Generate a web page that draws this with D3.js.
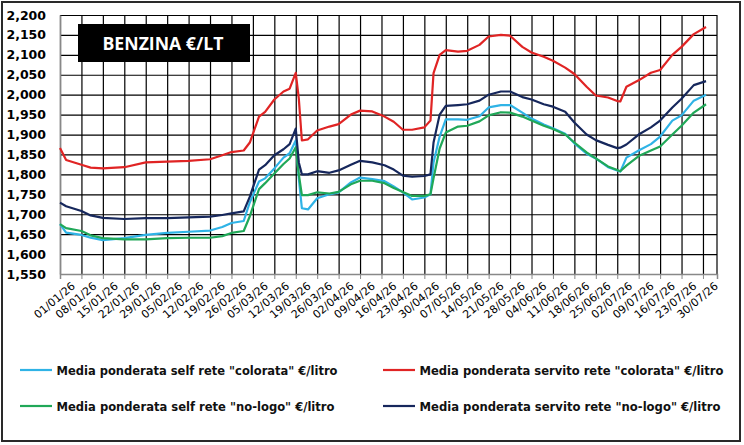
<!DOCTYPE html>
<html>
<head>
<meta charset="utf-8">
<script src="https://cdn.jsdelivr.net/npm/d3@7"></script>
<style>
  body { margin: 0; background: #fff; }
</style>
</head>
<body>
<div id="chart"></div>
<script>
// sample dates (read off the picture, not evenly spaced)
const dates = [
  "2026-01-01", "2026-01-03", "2026-01-08", "2026-01-11", "2026-01-15", "2026-01-22",
  "2026-01-29", "2026-02-05", "2026-02-12", "2026-02-19", "2026-02-23", "2026-02-26",
  "2026-03-02", "2026-03-04", "2026-03-07", "2026-03-09", "2026-03-12", "2026-03-15",
  "2026-03-17", "2026-03-19", "2026-03-20", "2026-03-21", "2026-03-23", "2026-03-26",
  "2026-03-30", "2026-04-02", "2026-04-06", "2026-04-09", "2026-04-13", "2026-04-17",
  "2026-04-20", "2026-04-23", "2026-04-26", "2026-04-30", "2026-05-02", "2026-05-03",
  "2026-05-05", "2026-05-07", "2026-05-11", "2026-05-14", "2026-05-18", "2026-05-21",
  "2026-05-25", "2026-05-28", "2026-06-01", "2026-06-04", "2026-06-08", "2026-06-11",
  "2026-06-15", "2026-06-18", "2026-06-22", "2026-06-25", "2026-06-29", "2026-07-02",
  "2026-07-03", "2026-07-05", "2026-07-09", "2026-07-13", "2026-07-16", "2026-07-20",
  "2026-07-23", "2026-07-27", "2026-07-31",
];

// €/litro
const selfColorata = [
  1.675, 1.654, 1.648, 1.641, 1.635, 1.640, 1.648, 1.653, 1.656, 1.659, 1.668, 1.678,
  1.683, 1.730, 1.782, 1.790, 1.815, 1.842, 1.853, 1.885, 1.790, 1.715, 1.712, 1.740,
  1.750, 1.755, 1.780, 1.792, 1.788, 1.783, 1.770, 1.755, 1.737, 1.742, 1.750, 1.830,
  1.895, 1.938, 1.938, 1.937, 1.946, 1.968, 1.974, 1.974, 1.955, 1.940, 1.925, 1.916,
  1.902, 1.878, 1.852, 1.840, 1.818, 1.810, 1.807, 1.842, 1.860, 1.876, 1.895, 1.935,
  1.948, 1.985, 2.000,
];
const servitoColorata = [
  1.866, 1.836, 1.824, 1.817, 1.815, 1.818, 1.830, 1.832, 1.834, 1.838, 1.848, 1.856,
  1.860, 1.880, 1.945, 1.957, 1.988, 2.008, 2.015, 2.055, 1.990, 1.885, 1.888, 1.910,
  1.920, 1.926, 1.950, 1.960, 1.958, 1.945, 1.932, 1.912, 1.912, 1.918, 1.935, 2.054,
  2.100, 2.112, 2.108, 2.110, 2.125, 2.146, 2.150, 2.148, 2.120, 2.106, 2.095, 2.085,
  2.068, 2.052, 2.020, 1.998, 1.993, 1.984, 1.983, 2.020, 2.036, 2.055, 2.062, 2.100,
  2.120, 2.152, 2.170,
];
const selfNoLogo = [
  1.675, 1.665, 1.658, 1.647, 1.640, 1.637, 1.637, 1.640, 1.641, 1.641, 1.645, 1.653,
  1.658, 1.695, 1.763, 1.778, 1.802, 1.826, 1.840, 1.868, 1.800, 1.748, 1.748, 1.755,
  1.752, 1.756, 1.775, 1.784, 1.784, 1.778, 1.766, 1.756, 1.746, 1.746, 1.750, 1.790,
  1.865, 1.905, 1.920, 1.922, 1.933, 1.948, 1.956, 1.955, 1.945, 1.935, 1.922, 1.914,
  1.900, 1.880, 1.855, 1.840, 1.820, 1.811, 1.808, 1.822, 1.846, 1.860, 1.870, 1.900,
  1.922, 1.955, 1.976,
];
const servitoNoLogo = [
  1.729, 1.720, 1.708, 1.697, 1.691, 1.688, 1.690, 1.690, 1.692, 1.694, 1.698, 1.702,
  1.707, 1.744, 1.812, 1.823, 1.848, 1.863, 1.876, 1.915, 1.830, 1.800, 1.800, 1.808,
  1.804, 1.810, 1.824, 1.834, 1.830, 1.823, 1.812, 1.797, 1.794, 1.796, 1.800, 1.880,
  1.950, 1.972, 1.974, 1.976, 1.985, 2.000, 2.008, 2.008, 1.994, 1.988, 1.976, 1.970,
  1.957, 1.930, 1.900, 1.886, 1.874, 1.866, 1.867, 1.875, 1.900, 1.918, 1.935, 1.968,
  1.990, 2.024, 2.034,
];

const seriesNames = [
  'Media ponderata self rete "colorata" €/litro',
  'Media ponderata servito rete "colorata" €/litro',
  'Media ponderata self rete "no-logo" €/litro',
  'Media ponderata servito rete "no-logo" €/litro',
];
const seriesColors = ["#2fb3e6", "#e02424", "#20a858", "#16275c"];
const seriesValues = [selfColorata, servitoColorata, selfNoLogo, servitoNoLogo];

const yTicks = d3.range(1.55, 2.2001, 0.05);
const chartTitle = "BENZINA €/LT";

const width = 744;
const height = 445;
const plot = { left: 60, top: 15, right: 717, bottom: 274 };

const parseDate = d3.utcParse("%Y-%m-%d");
const dateValues = dates.map(parseDate);
const itLocale = d3.formatLocale({ decimal: ",", thousands: ".", grouping: [3], currency: ["€", ""] });

const x = d3
  .scaleUtc()
  .domain([parseDate("2026-01-01"), new Date(Date.UTC(2026, 7, 3, 14))])
  .range([plot.left, plot.right]);
const y = d3.scaleLinear().domain([1.55, 2.2]).range([plot.bottom, plot.top]);

// weekly ticks, 01/01 .. 30/07
const xTicks = d3.utcDay.range(parseDate("2026-01-01"), parseDate("2026-07-31"), 7);

const svg = d3
  .create("svg")
  .attr("width", width)
  .attr("height", height)
  .attr("viewBox", [0, 0, width, height])
  .attr("font-family", "'DejaVu Sans', Verdana, sans-serif");

svg.append("rect").attr("width", width).attr("height", height).attr("fill", "#fff");

// grid
svg
  .append("g")
  .attr("transform", `translate(0,${plot.bottom})`)
  .call(d3.axisBottom(x).tickValues(xTicks).tickSize(-(plot.bottom - plot.top)).tickFormat(""))
  .call((g) => g.select(".domain").remove())
  .call((g) => g.selectAll("line").attr("stroke", "#000").attr("stroke-width", 1.2));

svg
  .append("g")
  .attr("transform", `translate(${plot.left},0)`)
  .call(d3.axisLeft(y).tickValues(yTicks).tickSize(-(plot.right - plot.left)).tickFormat(""))
  .call((g) => g.select(".domain").remove())
  .call((g) => g.selectAll("line").attr("stroke", "#000").attr("stroke-width", 1.2));

// right border of plot area
svg
  .append("line")
  .attr("x1", plot.right)
  .attr("x2", plot.right)
  .attr("y1", plot.top)
  .attr("y2", plot.bottom)
  .attr("stroke", "#000")
  .attr("stroke-width", 1.2);

// x axis with labels
svg
  .append("g")
  .attr("transform", `translate(0,${plot.bottom})`)
  .call(d3.axisBottom(x).tickValues(xTicks).tickSize(5).tickFormat(d3.utcFormat("%d/%m/%y")))
  .call((g) => g.select(".domain").attr("stroke", "#888").attr("stroke-width", 1.5))
  .call((g) => g.selectAll(".tick line").attr("stroke", "#888"))
  .call((g) =>
    g
      .selectAll(".tick text")
      .attr("font-size", 11)
      .attr("font-family", "'DejaVu Sans', Verdana, sans-serif")
      .attr("fill", "#000")
      .attr("text-anchor", "end")
      .attr("transform", "translate(6,2) rotate(-40)")
      .attr("dy", "0.6em")
  );

// y axis labels
svg
  .append("g")
  .attr("transform", `translate(${plot.left},0)`)
  .call(d3.axisLeft(y).tickValues(yTicks).tickSize(0).tickPadding(14).tickFormat(itLocale.format(".3f")))
  .call((g) => g.select(".domain").attr("stroke", "#888").attr("stroke-width", 1.5))
  .call((g) =>
    g
      .selectAll(".tick text")
      .attr("font-size", 12.5)
      .attr("font-weight", "bold")
      .attr("font-family", "'DejaVu Sans', Verdana, sans-serif")
      .attr("fill", "#000")
  );

// lines
const line = d3
  .line()
  .x((d, i) => x(dateValues[i]))
  .y((d) => y(d))
  .curve(d3.curveLinear);

svg
  .append("g")
  .attr("fill", "none")
  .attr("stroke-width", 2.2)
  .attr("stroke-linejoin", "round")
  .selectAll("path")
  .data(seriesValues)
  .join("path")
  .attr("stroke", (d, i) => seriesColors[i])
  .attr("d", line);

// title box
svg.append("rect").attr("x", 78).attr("y", 24).attr("width", 172).attr("height", 38).attr("fill", "#000");
svg
  .append("text")
  .attr("x", 163)
  .attr("y", 50)
  .attr("text-anchor", "middle")
  .attr("fill", "#fff")
  .attr("font-family", "'Open Sans', 'DejaVu Sans', sans-serif")
  .attr("font-weight", "bold")
  .attr("font-size", 18)
  .attr("textLength", 121)
  .attr("lengthAdjust", "spacingAndGlyphs")
  .text(chartTitle);

// legend: 2 x 2
const legendPos = [
  { x: 20, y: 370, w: 281 },
  { x: 383, y: 370, w: 304 },
  { x: 20, y: 406, w: 278 },
  { x: 383, y: 406, w: 301 },
];
const legend = svg
  .append("g")
  .selectAll("g")
  .data(seriesNames)
  .join("g")
  .attr("transform", (d, i) => `translate(${legendPos[i].x},${legendPos[i].y})`);
legend
  .append("line")
  .attr("x1", 0)
  .attr("x2", 32)
  .attr("stroke", (d, i) => seriesColors[i])
  .attr("stroke-width", 2.2);
legend
  .append("text")
  .attr("x", 36.5)
  .attr("y", 4.5)
  .attr("font-size", 12)
  .attr("font-weight", "bold")
  .attr("fill", "#111")
  .attr("textLength", (d, i) => legendPos[i].w)
  .attr("lengthAdjust", "spacingAndGlyphs")
  .text((d) => d);

// outer frame
svg
  .append("rect")
  .attr("x", 2)
  .attr("y", 2)
  .attr("width", 738)
  .attr("height", 439)
  .attr("fill", "none")
  .attr("stroke", "#2a2a2a")
  .attr("stroke-width", 2);

document.getElementById("chart").append(svg.node());
</script>
</body>
</html>
